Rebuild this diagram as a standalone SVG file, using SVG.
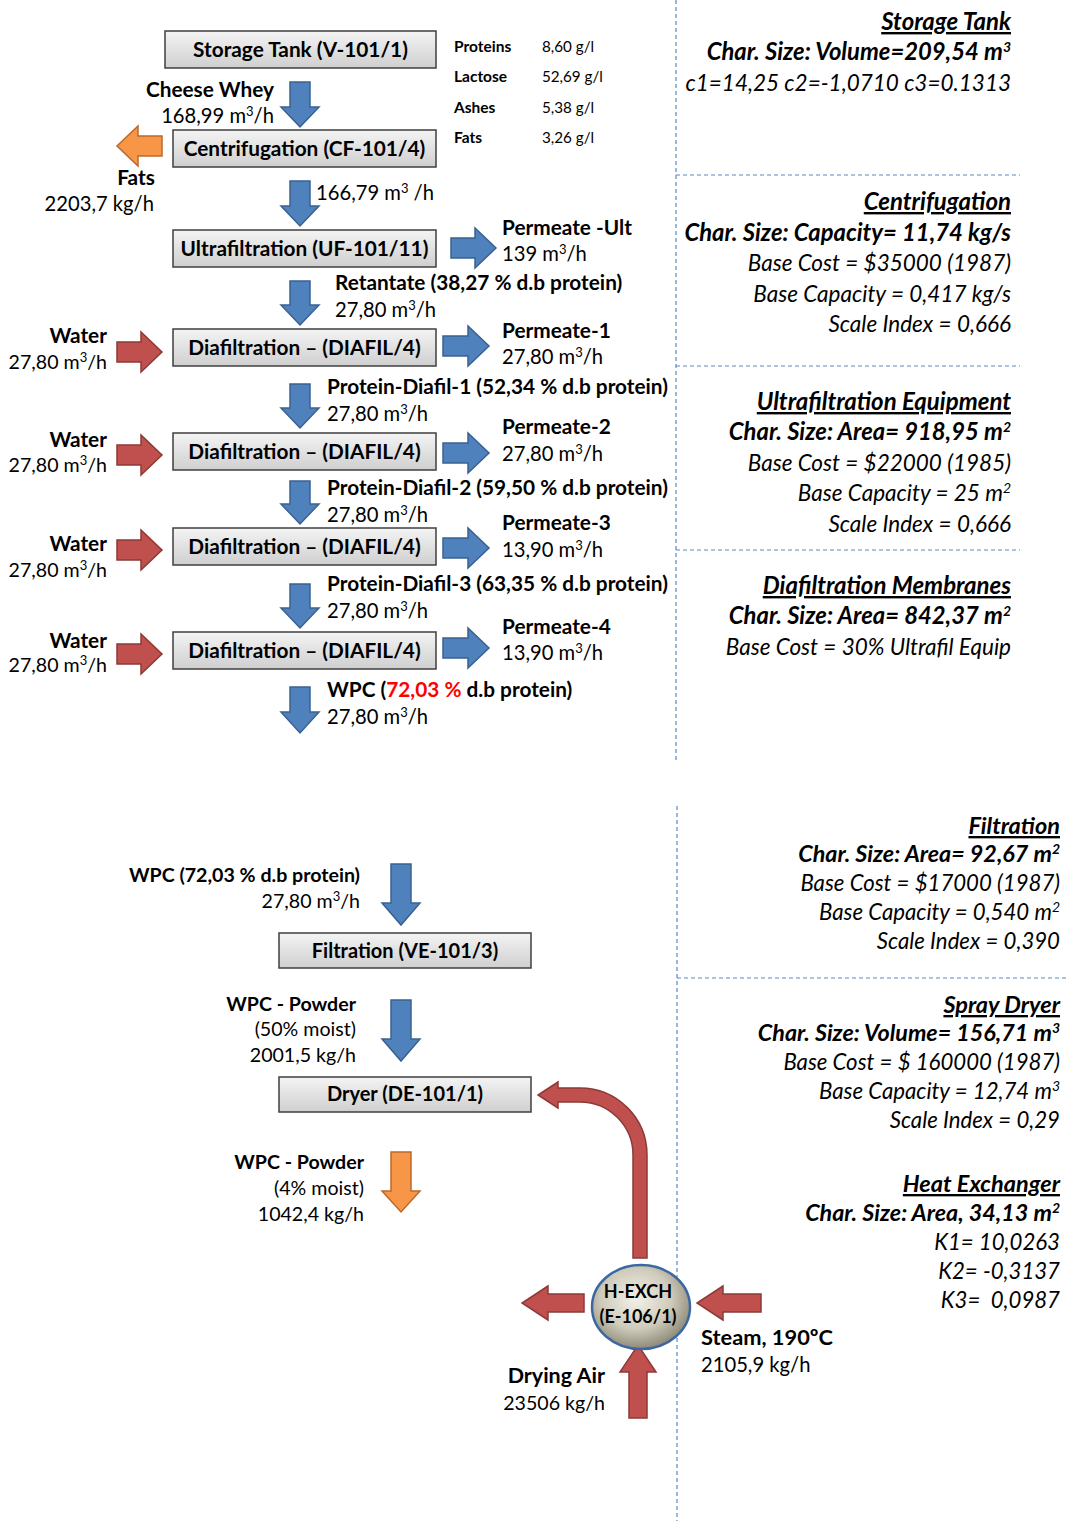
<svg xmlns="http://www.w3.org/2000/svg" width="1066" height="1521" viewBox="0 0 1066 1521">
<defs>
<linearGradient id="boxg" x1="0" y1="0" x2="0" y2="1">
<stop offset="0" stop-color="#f4f4f4"/><stop offset="1" stop-color="#cfcfcf"/>
</linearGradient>
<radialGradient id="ellg" cx="0.45" cy="0.4" r="0.6">
<stop offset="0" stop-color="#f3f1e8"/><stop offset="0.6" stop-color="#cfcbbb"/><stop offset="1" stop-color="#8f8a78"/>
</radialGradient>
<style>
text{font-family:Lato,"Open Sans","Liberation Sans",sans-serif;fill:#000}
.box{fill:url(#boxg);stroke:#3f3f3f;stroke-width:1.5}
.bl{font-weight:bold;font-size:20.8px;text-anchor:middle}
.lb{font-weight:bold;font-size:20.8px}
.lr{font-size:20.2px}
.sb{font-weight:bold;font-size:19.6px}
.sr{font-size:19.6px}
.tb{font-weight:bold;font-size:15.5px}
.tr{font-size:15.2px}
.end{text-anchor:end}
.ri{font-style:italic;font-size:22.5px;text-anchor:end}
.rb{font-style:italic;font-weight:bold;font-size:23.8px;text-anchor:end}
.rh{font-style:italic;font-weight:bold;font-size:24px;text-anchor:end;text-decoration:underline}
.ri2{font-style:italic;font-size:22.2px;text-anchor:end}
.rb2{font-style:italic;font-weight:bold;font-size:23.3px;text-anchor:end}
.rh2{font-style:italic;font-weight:bold;font-size:23.5px;text-anchor:end;text-decoration:underline}
.blue{fill:#4f81bd;stroke:#3a6190;stroke-width:1.5}
.red{fill:#c0504d;stroke:#8c3a37;stroke-width:1.5}
.orange{fill:#f79646;stroke:#b9692c;stroke-width:1.5}
.dash{stroke:#5a8ac6;stroke-width:1.2;stroke-dasharray:4 3;fill:none}
.ell{fill:url(#ellg);stroke:#3b68a0;stroke-width:2.5}
</style>
</defs>

<g id="dividers">
<line class="dash" x1="676" y1="0" x2="676" y2="760"/>
<line class="dash" x1="676" y1="175" x2="1020" y2="175"/>
<line class="dash" x1="676" y1="366" x2="1020" y2="366"/>
<line class="dash" x1="676" y1="550" x2="1020" y2="550"/>
<line class="dash" x1="677" y1="806" x2="677" y2="1521"/>
<line class="dash" x1="677" y1="978" x2="1066" y2="978"/>
</g>

<g id="connectors">
<path class="blue" d="M290,82H310V107H319L300,127L281,107H290Z"/>
<path class="blue" d="M290,181H310V206H319L300,226L281,206H290Z"/>
<path class="blue" d="M290,281H310V305H319L300,325L281,305H290Z"/>
<path class="blue" d="M290,384H310V408H319L300,428L281,408H290Z"/>
<path class="blue" d="M290,481H310V504H319L300,524L281,504H290Z"/>
<path class="blue" d="M290,584H310V608H319L300,628L281,608H290Z"/>
<path class="blue" d="M290,687H310V712H319L300,733L281,712H290Z"/>
<path class="blue" d="M451,238H475V228L496,248L475,268V258H451Z"/>
<path class="blue" d="M443,336H468V326L489,346L468,366V356H443Z"/>
<path class="blue" d="M443,443H468V433L489,453L468,473V463H443Z"/>
<path class="blue" d="M443,538H468V528L489,548L468,568V558H443Z"/>
<path class="blue" d="M443,638H468V628L489,648L468,668V658H443Z"/>
<path class="red" d="M117,342H141V332L162,352L141,372V362H117Z"/>
<path class="red" d="M117,445H141V435L162,455L141,475V465H117Z"/>
<path class="red" d="M117,540H141V530L162,550L141,570V560H117Z"/>
<path class="red" d="M117,644H141V634L162,654L141,674V664H117Z"/>
<path class="orange" d="M162,136H138V126L117,146L138,166V156H162Z"/>
<path class="blue" d="M391,864H411V903H420L401,925L382,903H391Z"/>
<path class="blue" d="M391,1000H411V1039H420L401,1061L382,1039H391Z"/>
<path class="orange" d="M391,1152H411V1191H420L401,1212L382,1191H391Z"/>
<path class="red" d="M633,1258V1155A53,53 0 0 0 580,1102H558V1108L538,1095L558,1082V1088H580A67,67 0 0 1 647,1155V1258Z"/>
<path class="red" d="M584,1294H548V1286L522,1303L548,1320V1312H584Z"/>
<path class="red" d="M761,1294H723V1286L697,1303L723,1320V1312H761Z"/>
<path class="red" d="M629,1418V1372H620L638,1345L656,1372H647V1418Z"/>
</g>

<g id="n-storage">
<rect class="box" x="165" y="31" width="271" height="37"/>
<text class="bl" x="300.5" y="57">Storage Tank (V-101/1)</text>
</g>
<g id="composition">
<text class="tb" x="454" y="52">Proteins</text><text class="tr" x="542" y="52">8,60 g/l</text>
<text class="tb" x="454" y="82">Lactose</text><text class="tr" x="542" y="82">52,69 g/l</text>
<text class="tb" x="454" y="113">Ashes</text><text class="tr" x="542" y="113">5,38 g/l</text>
<text class="tb" x="454" y="143">Fats</text><text class="tr" x="542" y="143">3,26 g/l</text>
</g>
<g id="n-centrifugation">
<rect class="box" x="173" y="130" width="263" height="37"/>
<text class="bl" x="304.5" y="156">Centrifugation (CF-101/4)</text>
</g>
<g id="n-ultrafiltration">
<rect class="box" x="173" y="230" width="263" height="37"/>
<text class="bl" x="304.5" y="256">Ultrafiltration (UF-101/11)</text>
</g>
<g id="n-diafil1">
<rect class="box" x="173" y="329" width="263" height="37"/>
<text class="bl" x="304.5" y="355">Diafiltration – (DIAFIL/4)</text>
</g>
<g id="n-diafil2">
<rect class="box" x="173" y="433" width="263" height="37"/>
<text class="bl" x="304.5" y="459">Diafiltration – (DIAFIL/4)</text>
</g>
<g id="n-diafil3">
<rect class="box" x="173" y="528" width="263" height="37"/>
<text class="bl" x="304.5" y="554">Diafiltration – (DIAFIL/4)</text>
</g>
<g id="n-diafil4">
<rect class="box" x="173" y="632" width="263" height="37"/>
<text class="bl" x="304.5" y="658">Diafiltration – (DIAFIL/4)</text>
</g>
<g id="n-filtration">
<rect class="box" x="279" y="933" width="252" height="35"/>
<text class="bl" x="405" y="958" style="font-size:20px">Filtration (VE-101/3)</text>
</g>
<g id="n-dryer">
<rect class="box" x="279" y="1077" width="252" height="35"/>
<text class="bl" x="405" y="1101" style="font-size:20px">Dryer (DE-101/1)</text>
</g>
<g id="n-hexch">
<ellipse class="ell" cx="641" cy="1307" rx="49" ry="42"/>
<text class="bl" x="638" y="1298" style="font-size:18px">H-EXCH</text>
<text class="bl" x="638" y="1323" style="font-size:18px">(E-106/1)</text>
</g>

<g id="stream-labels">
<text class="lb end" x="274" y="97">Cheese Whey</text>
<text class="lr end" x="274" y="123">168,99 m<tspan dy="-7" font-size="13">3</tspan><tspan dy="7">/h</tspan></text>
<text class="lb" x="136" y="185" text-anchor="middle">Fats</text>
<text class="lr end" x="154" y="211">2203,7 kg/h</text>
<text class="lr" x="316" y="200">166,79 m<tspan dy="-7" font-size="13">3</tspan><tspan dy="7"> /h</tspan></text>

<text class="lb" x="502" y="235">Permeate -Ult</text>
<text class="lr" x="502" y="261">139 m<tspan dy="-7" font-size="13">3</tspan><tspan dy="7">/h</tspan></text>
<text class="lb" x="335" y="290">Retantate (38,27 % d.b protein)</text>
<text class="lr" x="335" y="317">27,80 m<tspan dy="-7" font-size="13">3</tspan><tspan dy="7">/h</tspan></text>

<text class="lb end" x="107" y="343">Water</text>
<text class="sr end" x="107" y="369">27,80 m<tspan dy="-7" font-size="13">3</tspan><tspan dy="7">/h</tspan></text>
<text class="lb" x="502" y="338">Permeate-1</text>
<text class="lr" x="502" y="364">27,80 m<tspan dy="-7" font-size="13">3</tspan><tspan dy="7">/h</tspan></text>
<text class="lb" x="327" y="394">Protein-Diafil-1 (52,34 % d.b protein)</text>
<text class="lr" x="327" y="421">27,80 m<tspan dy="-7" font-size="13">3</tspan><tspan dy="7">/h</tspan></text>

<text class="lb end" x="107" y="447">Water</text>
<text class="sr end" x="107" y="472">27,80 m<tspan dy="-7" font-size="13">3</tspan><tspan dy="7">/h</tspan></text>
<text class="lb" x="502" y="434">Permeate-2</text>
<text class="lr" x="502" y="461">27,80 m<tspan dy="-7" font-size="13">3</tspan><tspan dy="7">/h</tspan></text>
<text class="lb" x="327" y="495">Protein-Diafil-2 (59,50 % d.b protein)</text>
<text class="lr" x="327" y="522">27,80 m<tspan dy="-7" font-size="13">3</tspan><tspan dy="7">/h</tspan></text>

<text class="lb end" x="107" y="551">Water</text>
<text class="sr end" x="107" y="577">27,80 m<tspan dy="-7" font-size="13">3</tspan><tspan dy="7">/h</tspan></text>
<text class="lb" x="502" y="530">Permeate-3</text>
<text class="lr" x="502" y="557">13,90 m<tspan dy="-7" font-size="13">3</tspan><tspan dy="7">/h</tspan></text>
<text class="lb" x="327" y="591">Protein-Diafil-3 (63,35 % d.b protein)</text>
<text class="lr" x="327" y="618">27,80 m<tspan dy="-7" font-size="13">3</tspan><tspan dy="7">/h</tspan></text>

<text class="lb end" x="107" y="648">Water</text>
<text class="sr end" x="107" y="672">27,80 m<tspan dy="-7" font-size="13">3</tspan><tspan dy="7">/h</tspan></text>
<text class="lb" x="502" y="634">Permeate-4</text>
<text class="lr" x="502" y="660">13,90 m<tspan dy="-7" font-size="13">3</tspan><tspan dy="7">/h</tspan></text>
<text class="lb" x="327" y="697">WPC (<tspan style="fill:#ff0000">72,03 %</tspan> d.b protein)</text>
<text class="lr" x="327" y="724">27,80 m<tspan dy="-7" font-size="13">3</tspan><tspan dy="7">/h</tspan></text>

<text class="sb end" x="360" y="882">WPC (72,03 % d.b protein)</text>
<text class="sr end" x="360" y="908">27,80 m<tspan dy="-7" font-size="13">3</tspan><tspan dy="7">/h</tspan></text>
<text class="sb end" x="356" y="1011">WPC - Powder</text>
<text class="sr end" x="356" y="1036">(50% moist)</text>
<text class="sr end" x="356" y="1062">2001,5 kg/h</text>
<text class="sb end" x="364" y="1169">WPC - Powder</text>
<text class="sr end" x="364" y="1195">(4% moist)</text>
<text class="sr end" x="364" y="1221">1042,4 kg/h</text>
<text class="lb end" x="605" y="1383" style="font-size:21.5px">Drying Air</text>
<text class="sr end" x="605" y="1410">23506 kg/h</text>
<text class="lb" x="701" y="1345" style="font-size:21.8px">Steam, 190ºC</text>
<text class="lr" x="701" y="1372">2105,9 kg/h</text>
</g>

<g id="equipment-notes">
<text class="rh" x="1011" y="30">Storage Tank</text>
<text class="rb" x="1011" y="60">Char. Size: Volume=209,54 m<tspan dy="-8" font-size="14">3</tspan></text>
<text class="ri" x="1011" y="91">c1=14,25 c2=-1,0710 c3=0.1313</text>

<text class="rh" x="1011" y="210">Centrifugation</text>
<text class="rb" x="1011" y="241">Char. Size: Capacity= 11,74 kg/s</text>
<text class="ri" x="1011" y="271">Base Cost = $35000 (1987)</text>
<text class="ri" x="1011" y="302">Base Capacity = 0,417 kg/s</text>
<text class="ri" x="1011" y="332">Scale Index = 0,666</text>

<text class="rh" x="1011" y="410">Ultrafiltration Equipment</text>
<text class="rb" x="1011" y="440">Char. Size: Area= 918,95 m<tspan dy="-8" font-size="14">2</tspan></text>
<text class="ri" x="1011" y="471">Base Cost = $22000 (1985)</text>
<text class="ri" x="1011" y="501">Base Capacity = 25 m<tspan dy="-8" font-size="14">2</tspan></text>
<text class="ri" x="1011" y="532">Scale Index = 0,666</text>

<text class="rh" x="1011" y="594">Diafiltration Membranes</text>
<text class="rb" x="1011" y="624">Char. Size: Area= 842,37 m<tspan dy="-8" font-size="14">2</tspan></text>
<text class="ri" x="1011" y="655">Base Cost = 30% Ultrafil Equip</text>

<text class="rh2" x="1060" y="834">Filtration</text>
<text class="rb2" x="1060" y="862">Char. Size: Area= 92,67 m<tspan dy="-8" font-size="14">2</tspan></text>
<text class="ri2" x="1060" y="891">Base Cost = $17000 (1987)</text>
<text class="ri2" x="1060" y="920">Base Capacity = 0,540 m<tspan dy="-8" font-size="14">2</tspan></text>
<text class="ri2" x="1060" y="949">Scale Index = 0,390</text>

<text class="rh2" x="1060" y="1013">Spray Dryer</text>
<text class="rb2" x="1060" y="1041">Char. Size: Volume= 156,71 m<tspan dy="-8" font-size="14">3</tspan></text>
<text class="ri2" x="1060" y="1070">Base Cost = $ 160000 (1987)</text>
<text class="ri2" x="1060" y="1099">Base Capacity = 12,74 m<tspan dy="-8" font-size="14">3</tspan></text>
<text class="ri2" x="1060" y="1128">Scale Index = 0,29</text>

<text class="rh2" x="1060" y="1192">Heat Exchanger</text>
<text class="rb2" x="1060" y="1221">Char. Size: Area, 34,13 m<tspan dy="-8" font-size="14">2</tspan></text>
<text class="ri2" x="1060" y="1250">K1= 10,0263</text>
<text class="ri2" x="1060" y="1279">K2= -0,3137</text>
<text class="ri2" x="1060" y="1308" xml:space="preserve">K3=  0,0987</text>
</g>
</svg>
